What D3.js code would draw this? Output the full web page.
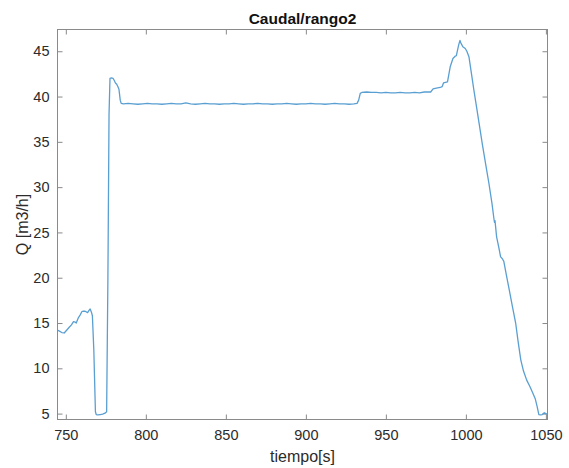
<!DOCTYPE html>
<html>
<head>
<meta charset="utf-8">
<script src="https://cdn.jsdelivr.net/npm/d3@7"></script>
<style>
  html, body { margin: 0; padding: 0; background: #ffffff; }
  svg { display: block; }
  text { font-family: "Liberation Sans", Arial, Helvetica, sans-serif; }
</style>
</head>
<body>
<svg id="chart" width="569" height="468"></svg>
<script>
// Flow measurement, range 2: time in seconds, flow in m3/h
const tiempo = [
  745.0, 746.0, 747.5, 749.0, 750.5, 752.0, 753.5, 754.8, 755.8, 756.5,
  757.9, 759.0, 760.0, 761.0, 762.1, 763.6, 764.5, 765.2, 766.0, 766.6,
  767.5, 768.5, 769.0, 770.0, 771.5, 773.0, 774.5, 775.5, 776.3, 777.0,
  777.6, 778.5, 779.5, 780.2, 781.0, 781.8, 782.5, 783.2, 784.0, 784.6,
  786, 789, 792, 795, 798, 801, 804, 807, 810, 813,
  816, 819, 822, 825, 828, 831, 834, 837, 840, 843,
  846, 849, 852, 855, 858, 861, 864, 867, 870, 873,
  876, 879, 882, 885, 888, 891, 894, 897, 900, 903,
  906, 909, 912, 915, 918, 921, 924, 927, 930, 932,
  933, 934, 935, 938, 941, 944, 947, 950, 953, 956,
  959, 962, 965, 968, 971, 974, 978.0, 979.5, 980.8, 983.9,
  985.2, 986.0, 988.5, 989.3, 990.2, 991.9, 993.3, 994.0, 994.75, 995.5,
  996.3, 996.9, 998.1, 999.6, 1000.6, 1001.9, 1003.5, 1005.0, 1006.8, 1008.6,
  1010.2, 1012.3, 1014.4, 1016.3, 1017.6, 1017.9, 1018.2, 1019.2, 1020.5, 1021.7,
  1022.8, 1023.7, 1025.4, 1027.1, 1029.0, 1031.1, 1032.6, 1034.3, 1036.0, 1038.0,
  1040.0, 1042.0, 1043.4, 1044.5, 1045.6, 1046.7, 1047.7, 1049.0, 1050.0, 1050.8
];
const caudal = [
  14.2, 14.1, 13.95, 13.9, 14.2, 14.5, 14.8, 15.15, 15.1, 15.0,
  15.6, 15.9, 16.25, 16.3, 16.3, 16.15, 16.4, 16.55, 16.2, 15.8,
  12.0, 5.2, 4.9, 4.85, 4.9, 4.95, 5.05, 5.2, 20.0, 38.0,
  42.0, 42.05, 42.0, 41.8, 41.5, 41.35, 41.1, 40.8, 39.6, 39.25,
  39.2, 39.25, 39.2, 39.15, 39.2, 39.25, 39.2, 39.2, 39.15, 39.2,
  39.25, 39.2, 39.2, 39.3, 39.2, 39.15, 39.2, 39.25, 39.2, 39.2,
  39.15, 39.2, 39.2, 39.25, 39.2, 39.15, 39.2, 39.2, 39.25, 39.2,
  39.2, 39.15, 39.2, 39.2, 39.25, 39.2, 39.15, 39.2, 39.2, 39.25,
  39.2, 39.2, 39.15, 39.2, 39.25, 39.2, 39.2, 39.15, 39.2, 39.25,
  39.6, 40.35, 40.45, 40.5, 40.45, 40.45, 40.4, 40.45, 40.4, 40.4,
  40.45, 40.4, 40.4, 40.45, 40.4, 40.5, 40.5, 40.85, 40.9, 41.0,
  41.1, 41.5, 41.62, 42.4, 43.28, 44.2, 44.45, 44.5, 45.1, 45.7,
  46.2, 45.9, 45.5, 45.3, 45.0, 44.4, 42.5, 40.7, 38.7, 36.66,
  34.83, 32.6, 30.4, 28.2, 26.4, 26.1, 26.3, 24.5, 23.4, 22.3,
  22.1, 21.8, 20.2, 18.66, 16.9, 15.0, 13.0, 10.94, 9.7, 8.7,
  8.0, 7.2, 6.6, 5.8, 4.9, 4.85, 4.9, 5.1, 5.0, 4.95
];
const xTicks = [750, 800, 850, 900, 950, 1000, 1050];
const yTicks = [5, 10, 15, 20, 25, 30, 35, 40, 45];
const xDomain = [744.8, 1051];
const yDomain = [4.35, 47.4];
const titulo = "Caudal/rango2";
const etiquetaX = "tiempo[s]";
const etiquetaY = "Q [m3/h]";

const svg = d3.select("#chart");
const L = 57.5, R = 547.5, T = 29.5, B = 419.5;
const axisColor = "#8a8a8a";
const textColor = "#2b2b2b";
const tickLen = 5;

const x = d3.scaleLinear().domain(xDomain).range([L, R]);
const y = d3.scaleLinear().domain(yDomain).range([B, T]);

function styleAxis(g, showLabels) {
  g.select(".domain").remove();
  g.selectAll(".tick line").attr("stroke", axisColor).attr("stroke-width", 1);
  g.selectAll(".tick text")
    .attr("fill", textColor)
    .style("font-size", "14.5px")
    .style("font-family", "'Liberation Sans', Arial, sans-serif")
    .attr("display", showLabels ? null : "none");
}

// bottom axis (inward ticks) with labels
svg.append("g")
  .attr("transform", `translate(0,${B})`)
  .call(d3.axisBottom(x).tickValues(xTicks).tickFormat(d3.format("d"))
        .tickSizeInner(-tickLen).tickSizeOuter(0).tickPadding(10))
  .call(g => styleAxis(g, true));

// top axis (ticks only)
svg.append("g")
  .attr("transform", `translate(0,${T})`)
  .call(d3.axisTop(x).tickValues(xTicks).tickSizeInner(-tickLen).tickSizeOuter(0))
  .call(g => styleAxis(g, false));

// left axis with labels
svg.append("g")
  .attr("transform", `translate(${L},0)`)
  .call(d3.axisLeft(y).tickValues(yTicks).tickFormat(d3.format("d"))
        .tickSizeInner(-tickLen).tickSizeOuter(0).tickPadding(8))
  .call(g => styleAxis(g, true));

// right axis (ticks only)
svg.append("g")
  .attr("transform", `translate(${R},0)`)
  .call(d3.axisRight(y).tickValues(yTicks).tickSizeInner(-tickLen).tickSizeOuter(0))
  .call(g => styleAxis(g, false));

// box around the plot area
svg.append("rect")
  .attr("x", L).attr("y", T)
  .attr("width", R - L).attr("height", B - T)
  .attr("fill", "none")
  .attr("stroke", axisColor)
  .attr("stroke-width", 1);

// flow trace
const datos = tiempo.map((t, i) => [t, caudal[i]]);
svg.append("path")
  .datum(datos)
  .attr("fill", "none")
  .attr("stroke", "#5a9fd2")
  .attr("stroke-width", 1.3)
  .attr("stroke-linejoin", "round")
  .attr("d", d3.line().x(d => x(d[0])).y(d => y(d[1])));

// title and axis labels
svg.append("text")
  .attr("x", (L + R) / 2).attr("y", 23.5)
  .attr("text-anchor", "middle")
  .attr("fill", "#111")
  .style("font-size", "15.5px")
  .style("font-weight", "bold")
  .text(titulo);

svg.append("text")
  .attr("x", (L + R) / 2).attr("y", 462)
  .attr("text-anchor", "middle")
  .attr("fill", textColor)
  .style("font-size", "16px")
  .text(etiquetaX);

svg.append("text")
  .attr("transform", `translate(28,${(T + B) / 2}) rotate(-90)`)
  .attr("text-anchor", "middle")
  .attr("fill", textColor)
  .style("font-size", "16px")
  .text(etiquetaY);
</script>
</body>
</html>
